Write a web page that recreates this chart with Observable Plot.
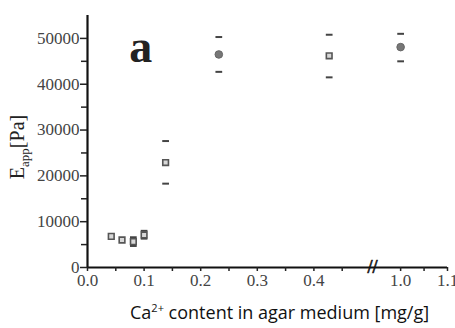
<!DOCTYPE html>
<html>
<head>
<meta charset="utf-8">
<script src="https://cdn.jsdelivr.net/npm/d3@7"></script>
<script src="https://cdn.jsdelivr.net/npm/@observablehq/plot@0.6"></script>
<style>
  html, body { margin: 0; padding: 0; background: #fff; }
  #wrap { position: relative; width: 455px; height: 328px; overflow: hidden; }
  #caption { position: absolute; left: 130px; top: 300px; font-family: "Open Sans", sans-serif; font-size: 18px; line-height: 24px; color: #111; white-space: nowrap; }
  #caption sup { font-size: 11px; vertical-align: 7px; line-height: 0; }
</style>
</head>
<body>
<div id="wrap"><div id="chart"></div><div id="caption">Ca<sup>2+</sup> content in agar medium [mg/g]</div></div>
<script>
// Data
const conc    = [0.042, 0.061, 0.081, 0.100, 0.138, 0.232, 0.427, 1.000]; // Ca2+ [mg/g]
const eapp    = [6800, 6000, 5650, 7100, 22900, 46500, 46200, 48100];     // E_app [Pa]
const errLow  = [null, null, 4700, 6300, 18300, 42700, 41500, 45000];
const errHigh = [null, null, 6600, 8000, 27600, 50300, 50800, 51000];
const marker  = ["square", "square", "square", "square", "square", "circle", "square", "circle"];

const xMajorTicks = [0, 0.1, 0.2, 0.3, 0.4, 1.0, 1.1];
const xMinorTicks = [0.05, 0.15, 0.25, 0.35, 0.45, 1.05];
const yMajorTicks = [0, 10000, 20000, 30000, 40000, 50000];
const yMinorTicks = [5000, 15000, 25000, 35000, 45000];
const xBreak = [0.94];
const panelLabel = [{x: 0.094, y: 48000, text: "a"}];

const points = conc.map((c, i) => ({x: c, y: eapp[i], m: marker[i]}));
const caps = [];
conc.forEach((c, i) => {
  if (errLow[i] != null) caps.push({x: c, y: errLow[i]});
  if (errHigh[i] != null) caps.push({x: c, y: errHigh[i]});
});

const capSymbol = {
  draw(ctx, size) {
    const w = Math.sqrt(size) / 2;
    ctx.moveTo(-w, 0);
    ctx.lineTo(w, 0);
  }
};

const serif = "'Liberation Serif', 'Times New Roman', serif";

const plot = Plot.plot({
  width: 455,
  height: 296,
  marginTop: 15,
  marginBottom: 29,
  marginLeft: 87,
  marginRight: 8,
  style: {background: "transparent", fontFamily: serif},
  x: {type: "linear", domain: [0, 0.5, 0.94, 1.1], range: [87, 370, 372, 447]},
  y: {domain: [0, 55000]},
  marks: [
    Plot.ruleY([0], {x1: 0, x2: 1.1, stroke: "#111", strokeWidth: 2.2}),
    Plot.ruleX([0], {y1: 0, y2: 55000, stroke: "#111", strokeWidth: 2.2}),
    Plot.axisX(xMajorTicks, {tickSize: 4, tickPadding: 2, tickFormat: d3.format(".1f"), fontSize: 17, fill: "#444", stroke: "#222", strokeWidth: 1.5, label: null}),
    Plot.axisX(xMinorTicks, {tickSize: 4, tickFormat: () => "", stroke: "#222", strokeWidth: 1.5, label: null}),
    Plot.axisY(yMajorTicks, {tickSize: 7, tickPadding: 1, tickFormat: d => String(d), fontSize: 17, fill: "#444", stroke: "#222", strokeWidth: 1.5, label: null}),
    Plot.axisY(yMinorTicks, {tickSize: 6, tickFormat: () => "", stroke: "#222", strokeWidth: 1.5, label: null}),
    Plot.text(xBreak, {x: d => d, y: 0, text: () => "//", fontSize: 18, fontWeight: "bold", fill: "#111", stroke: "#111", strokeWidth: 0.5}),
    Plot.dot(caps, {x: "x", y: "y", symbol: capSymbol, r: 3.8, stroke: "#444", strokeWidth: 2}),
    Plot.dot(points.filter(d => d.m === "square"), {x: "x", y: "y", symbol: "square", r: 3.2, stroke: "#555", strokeWidth: 1.6, fill: "#d8d8d8"}),
    Plot.dot(points.filter(d => d.m === "circle"), {x: "x", y: "y", symbol: "circle", r: 3.8, fill: "#777", stroke: "#666", strokeWidth: 1}),
    Plot.text(panelLabel, {x: "x", y: "y", text: "text", fontSize: 46, fontWeight: "bold", fontFamily: serif, fill: "#222", lineAnchor: "middle"})
  ]
});
document.getElementById("chart").appendChild(plot);

// y-axis title with subscript
const svg = d3.select(plot);
const t = svg.append("text")
  .attr("transform", "translate(24,147) rotate(-90)")
  .attr("text-anchor", "middle")
  .attr("font-family", serif)
  .attr("font-size", 20)
  .attr("fill", "#222");
t.append("tspan").text("E");
t.append("tspan").attr("font-size", 13).attr("dy", 5).text("app");
t.append("tspan").attr("dy", -5).text("[Pa]");
</script>
</body>
</html>
